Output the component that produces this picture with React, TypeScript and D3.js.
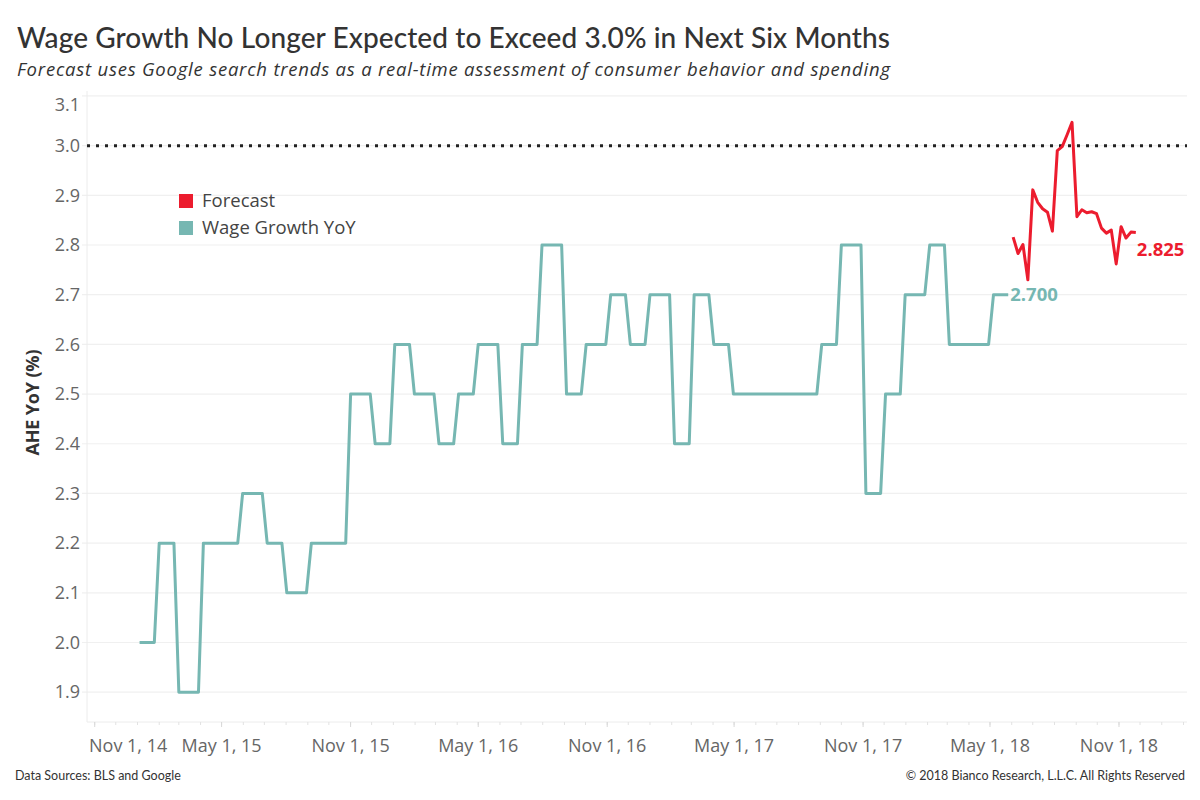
import React from 'react';
import * as d3 from 'd3';

// weekly series, value changes on the first Sunday of each release month
const wageChangeDates = [
  '2015-01-04', '2015-02-01', '2015-03-01', '2015-04-05', '2015-05-31', '2015-07-05',
  '2015-08-02', '2015-09-06', '2015-11-01', '2015-12-06', '2016-01-03', '2016-01-31',
  '2016-03-06', '2016-04-03', '2016-05-01', '2016-06-05', '2016-07-03', '2016-07-31',
  '2016-09-04', '2016-10-02', '2016-11-06', '2016-12-04', '2017-01-01', '2017-02-05',
  '2017-03-05', '2017-04-02', '2017-04-30', '2017-09-03', '2017-10-01', '2017-11-05',
  '2017-12-03', '2017-12-31', '2018-02-04', '2018-03-04', '2018-05-06',
];
const wageValues = [
  2.0, 2.2, 1.9, 2.2, 2.3, 2.2,
  2.1, 2.2, 2.5, 2.4, 2.6, 2.5,
  2.4, 2.5, 2.6, 2.4, 2.6, 2.8,
  2.5, 2.6, 2.7, 2.6, 2.7, 2.4,
  2.7, 2.6, 2.5, 2.6, 2.8, 2.3,
  2.5, 2.7, 2.8, 2.6, 2.7,
];
const wageEndDate = '2018-05-27';

const forecastDates = [
  '2018-06-03', '2018-06-10', '2018-06-17', '2018-06-24', '2018-07-01', '2018-07-08',
  '2018-07-15', '2018-07-22', '2018-07-29', '2018-08-05', '2018-08-12', '2018-08-19',
  '2018-08-26', '2018-09-02', '2018-09-09', '2018-09-16', '2018-09-23', '2018-09-30',
  '2018-10-07', '2018-10-14', '2018-10-21', '2018-10-28', '2018-11-04', '2018-11-11',
  '2018-11-18', '2018-11-25',
];
const forecastValues = [
  2.816, 2.783, 2.801, 2.730, 2.911, 2.886,
  2.873, 2.866, 2.828, 2.990, 2.998, 3.022,
  3.047, 2.857, 2.871, 2.865, 2.867, 2.863,
  2.834, 2.824, 2.830, 2.762, 2.837, 2.814,
  2.826, 2.825,
];

const yTicks = [1.9, 2.0, 2.1, 2.2, 2.3, 2.4, 2.5, 2.6, 2.7, 2.8, 2.9, 3.0, 3.1];
const xTickDates = [
  '2014-11-01', '2015-05-01', '2015-11-01', '2016-05-01', '2016-11-01',
  '2017-05-01', '2017-11-01', '2018-05-01', '2018-11-01',
];
const xDomain = ['2014-10-21', '2019-02-06'];
const yDomain = [1.84, 3.11];
const threshold = 3.0;

const legendItems = [
  {label: 'Forecast', color: '#ec1c2e'},
  {label: 'Wage Growth YoY', color: '#76b7b2'},
];

const parse = d3.timeParse('%Y-%m-%d');
const fmt = d3.timeFormat('%b %-d, %y');

const plot = {left: 87, right: 1187, top: 91, bottom: 722};
const WAGE = '#76b7b2';
const RED = '#ec1c2e';
const TITLE_FONT = 'Lato, sans-serif';
const FONT = '"Open Sans", "Noto Sans", sans-serif';

const App: React.FC = () => {
  const x = d3.scaleTime()
      .domain(xDomain.map((d) => parse(d) as Date))
      .range([plot.left, plot.right]);
  const y = d3.scaleLinear().domain(yDomain).range([plot.bottom, plot.top]);

  const wagePoints: [Date, number][] = [];
  wageChangeDates.forEach((d, i) => {
    const start = parse(d) as Date;
    const end = i < wageChangeDates.length - 1 ?
      d3.timeDay.offset(parse(wageChangeDates[i + 1]) as Date, -7) :
      parse(wageEndDate) as Date;
    wagePoints.push([start, wageValues[i]], [end, wageValues[i]]);
  });
  const forecastPoints: [Date, number][] = forecastDates.map((d, i) =>
    [parse(d) as Date, forecastValues[i]]);

  const line = d3.line<[Date, number]>()
      .x((d) => x(d[0]))
      .y((d) => y(d[1]));

  const minorTicks = d3.timeMonth.range(x.domain()[0], x.domain()[1]);
  const lastWage = wagePoints[wagePoints.length - 1];
  const lastFc = forecastPoints[forecastPoints.length - 1];

  return (
    <svg width={1200} height={800} style={{position: 'absolute', left: 0, top: 0, background: '#fff'}}
      fontFamily={FONT}>
      <text x={17} y={48} fontSize={28} fill="#333" fontWeight={500} fontFamily={TITLE_FONT}
        textLength={873} lengthAdjust="spacing">
        Wage Growth No Longer Expected to Exceed 3.0% in Next Six Months
      </text>
      <text x={17} y={76} fontSize={18.5} fill="#333" fontStyle="italic"
        textLength={873} lengthAdjust="spacing">
        Forecast uses Google search trends as a real-time assessment of consumer behavior and spending
      </text>

      {/* grid */}
      {yTicks.map((t) => (
        <line key={t} x1={plot.left - 5} x2={plot.right} y1={y(t)} y2={y(t)}
          stroke="#f0f0f0" strokeWidth={1.2}/>
      ))}
      <line x1={plot.left} x2={plot.left} y1={plot.top} y2={plot.bottom} stroke="#ececec"/>
      <line x1={plot.left} x2={plot.right} y1={plot.bottom} y2={plot.bottom} stroke="#ececec"/>

      {/* y labels */}
      {yTicks.map((t) => (
        <text key={t} x={80} y={Math.max(y(t), plot.top + 14)} dy="0.35em" textAnchor="end"
          fontSize={18} fill="#666">{t.toFixed(1)}</text>
      ))}
      <text transform={`translate(39, ${(plot.top + plot.bottom) / 2 - 4}) rotate(-90)`}
        textAnchor="middle" fontSize={18} fontWeight={700} fill="#333"
        textLength={106} lengthAdjust="spacing">AHE YoY (%)</text>

      {/* x ticks */}
      {minorTicks.map((d) => (
        <line key={d.getTime()} x1={x(d)} x2={x(d)} y1={plot.bottom} y2={plot.bottom + 3}
          stroke="#e2e2e2"/>
      ))}
      {xTickDates.map((s) => {
        const d = parse(s) as Date;
        const px = x(d);
        const nearLeft = px - 40 < plot.left;
        return (
          <g key={s}>
            <line x1={px} x2={px} y1={plot.bottom} y2={plot.bottom + 5} stroke="#d8d8d8"/>
            <text x={nearLeft ? plot.left + 2 : px} y={746} dy="0.35em"
              textAnchor={nearLeft ? 'start' : 'middle'} fontSize={18} fill="#666">
              {fmt(d)}
            </text>
          </g>
        );
      })}

      {/* threshold */}
      <line x1={plot.left} x2={plot.right} y1={y(threshold)} y2={y(threshold)}
        stroke="#222" strokeWidth={3} strokeDasharray="3,6"/>

      {/* series */}
      <path d={line(wagePoints) ?? ''} fill="none" stroke={WAGE} strokeWidth={3}
        strokeLinejoin="round"/>
      <path d={line(forecastPoints) ?? ''} fill="none" stroke={RED} strokeWidth={3}
        strokeLinejoin="round"/>
      <text x={x(lastWage[0]) + 2} y={y(lastWage[1])} dy="0.35em" fontSize={18.5}
        fontWeight={700} fill={WAGE}>{lastWage[1].toFixed(3)}</text>
      <text x={x(lastFc[0]) + 1} y={y(lastFc[1]) + 17} dy="0.35em" fontSize={18.5}
        fontWeight={700} fill={RED}>{lastFc[1].toFixed(3)}</text>

      {/* legend */}
      {legendItems.map((it, i) => (
        <g key={it.label} transform={`translate(179, ${194 + i * 27})`}>
          <rect width={14} height={14} fill={it.color}/>
          <text x={23} y={7} dy="0.35em" fontSize={18.5} fill="#444">{it.label}</text>
        </g>
      ))}

      {/* footer */}
      <text x={15} y={780} fontSize={12.5} fill="#333" fontFamily={TITLE_FONT}>
        Data Sources: BLS and Google
      </text>
      <text x={1185} y={780} fontSize={12.5} fill="#333" textAnchor="end" fontFamily={TITLE_FONT}>
        © 2018 Bianco Research, L.L.C. All Rights Reserved
      </text>
    </svg>
  );
};

export default App;
